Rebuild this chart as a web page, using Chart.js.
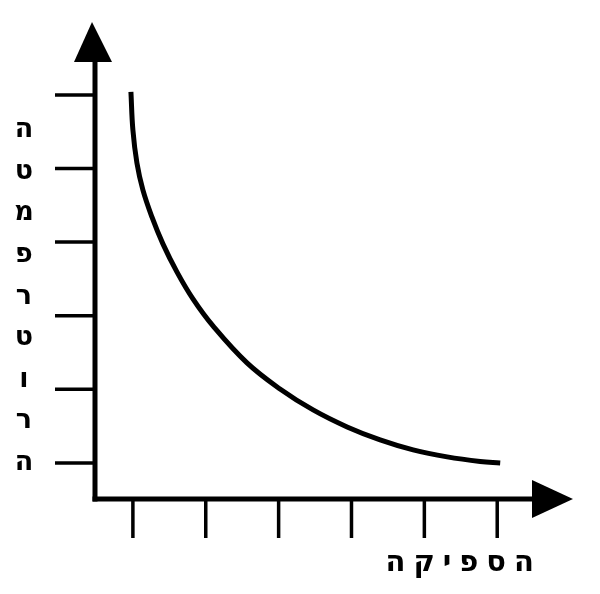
<!DOCTYPE html>
<html>
<head>
<meta charset="utf-8">
<script src="https://cdn.jsdelivr.net/npm/chart.js@4"></script>
<style>
html,body{margin:0;padding:0;background:#fff;}
#wrap{width:600px;height:594px;position:relative;}
</style>
</head>
<body>
<div id="wrap"><canvas id="c" width="600" height="594"></canvas></div>
<script>
// Data (arbitrary units)
const flowX = [0.973, 1.000, 1.055, 1.137, 1.261, 1.412, 1.604, 1.824, 2.099, 2.566, 3.019, 3.473, 3.940, 4.393, 4.846, 5.313, 5.766, 6.041];
const tempY = [6.041, 5.524, 5.076, 4.709, 4.342, 3.976, 3.595, 3.228, 2.861, 2.359, 2.005, 1.720, 1.489, 1.313, 1.177, 1.082, 1.020, 1.000];
const xTicks = [1, 2, 3, 4, 5, 6];
const yTicks = [1, 2, 3, 4, 5, 6];
const xLabel = "הספיקה";
const yLabel = "הטמפרטורה";

const points = flowX.map((x, i) => ({x: x, y: tempY[i]}));

const axesPlugin = {
  id: 'handAxes',
  beforeDatasetsDraw(chart) {
    const ctx = chart.ctx;
    const xs = chart.scales.x, ys = chart.scales.y;
    const ax = xs.left, ay = ys.bottom;
    ctx.save();
    ctx.strokeStyle = '#000';
    ctx.fillStyle = '#000';
    ctx.lineCap = 'butt';
    // ticks
    ctx.lineWidth = 3.5;
    yTicks.forEach(v => {
      const py = ys.getPixelForValue(v);
      ctx.beginPath(); ctx.moveTo(55, py); ctx.lineTo(ax, py); ctx.stroke();
    });
    xTicks.forEach(v => {
      const px = xs.getPixelForValue(v);
      ctx.beginPath(); ctx.moveTo(px, ay); ctx.lineTo(px, ay + 39); ctx.stroke();
    });
    // axis lines
    ctx.lineWidth = 5;
    ctx.beginPath(); ctx.moveTo(ax, ys.top + 38); ctx.lineTo(ax, ay + 2.5); ctx.stroke();
    ctx.beginPath(); ctx.moveTo(ax - 2.5, ay); ctx.lineTo(xs.right - 40, ay); ctx.stroke();
    // arrow heads
    ctx.beginPath();
    ctx.moveTo(ax - 3, ys.top);
    ctx.lineTo(ax - 21, ys.top + 40);
    ctx.lineTo(ax + 17, ys.top + 40);
    ctx.closePath(); ctx.fill();
    ctx.beginPath();
    ctx.moveTo(xs.right, ay);
    ctx.lineTo(xs.right - 41, ay - 19);
    ctx.lineTo(xs.right - 41, ay + 19);
    ctx.closePath(); ctx.fill();
    // y label: stacked letters
    ctx.font = 'bold 27px "DejaVu Sans"';
    ctx.textAlign = 'center';
    ctx.textBaseline = 'middle';
    const letters = Array.from(yLabel);
    const y0 = 130, y1 = 463;
    letters.forEach((ch, i) => {
      ctx.fillText(ch, 24, y0 + (y1 - y0) * i / (letters.length - 1));
    });
    // x label
    ctx.font = 'bold 29px "DejaVu Sans"';
    ctx.direction = 'rtl';
    ctx.textAlign = 'right';
    ctx.letterSpacing = '8px';
    ctx.fillText(xLabel, 542, 563);
    ctx.restore();
  }
};

new Chart(document.getElementById('c'), {
  type: 'line',
  data: {
    datasets: [{
      data: points,
      borderColor: '#000',
      borderWidth: 5,
      pointRadius: 0,
      fill: false,
      tension: 0.4,
      clip: false
    }]
  },
  options: {
    responsive: false,
    animation: false,
    devicePixelRatio: 1,
    layout: {padding: {left: 95, right: 27, top: 22, bottom: 95}},
    plugins: {legend: {display: false}, tooltip: {enabled: false}, title: {display: false}},
    scales: {
      x: {type: 'linear', min: 0.48, max: 7.04, display: false},
      y: {type: 'linear', min: 0.51, max: 6.99, display: false}
    }
  },
  plugins: [axesPlugin]
});
</script>
</body>
</html>
